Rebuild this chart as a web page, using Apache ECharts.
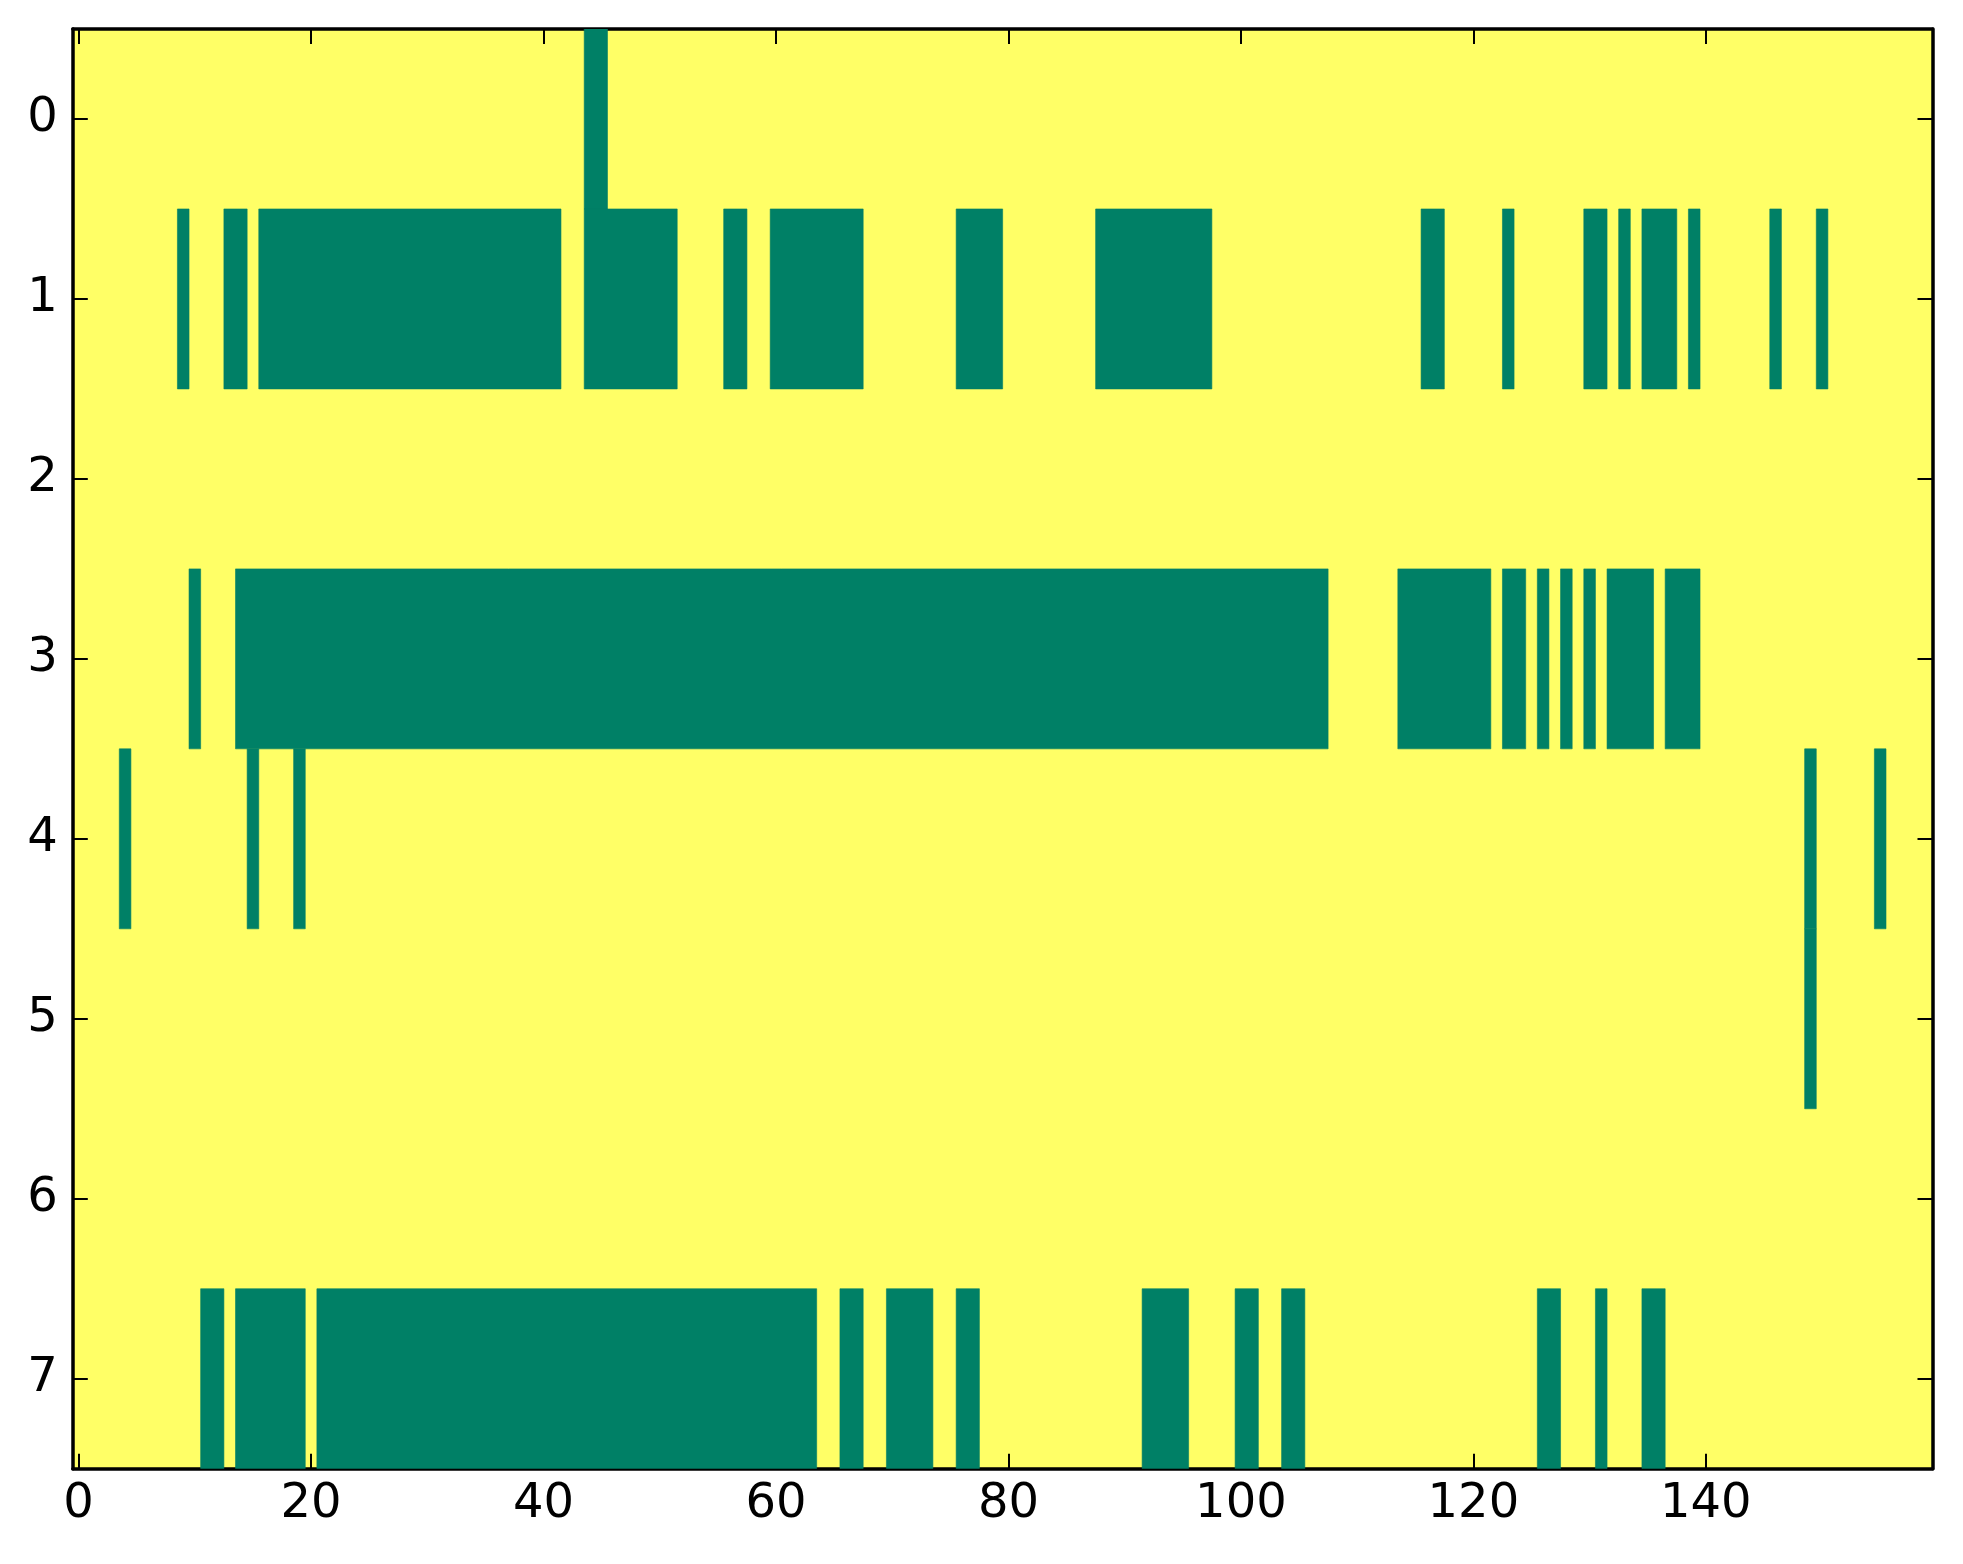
<!DOCTYPE html>
<html>
<head>
<meta charset="utf-8">
<script src="https://cdn.jsdelivr.net/npm/echarts@6/dist/echarts.min.js"></script>
<style>
  html, body { margin: 0; padding: 0; background: #fff; }
  #mainChart { width: 1963px; height: 1564px; }
</style>
</head>
<body>
<div id="mainChart"></div>
<script>
// green cells per row, as runs of [firstColumn, lastColumn]
var row0 = [[44, 45]];
var row1 = [[9, 9], [13, 14], [16, 41], [44, 51], [56, 57], [60, 67], [76, 79], [88, 97],
            [116, 117], [123, 123], [130, 131], [133, 133], [135, 137], [139, 139], [146, 146], [150, 150]];
var row2 = [];
var row3 = [[10, 10], [14, 107], [114, 121], [123, 124], [126, 126], [128, 128], [130, 130],
            [132, 135], [137, 139]];
var row4 = [[4, 4], [15, 15], [19, 19], [149, 149], [155, 155]];
var row5 = [[149, 149]];
var row6 = [];
var row7 = [[11, 12], [14, 19], [21, 63], [66, 67], [70, 73], [76, 77], [92, 95], [100, 101],
            [104, 105], [126, 127], [131, 131], [135, 136]];

var nCols = 160;
var nRows = 8;
var xTicks = [0, 20, 40, 60, 80, 100, 120, 140];
var yTicks = [0, 1, 2, 3, 4, 5, 6, 7];

var rows = [row0, row1, row2, row3, row4, row5, row6, row7];
var cells = [];
for (var r = 0; r < rows.length; r++) {
    for (var k = 0; k < rows[r].length; k++) {
        cells.push([rows[r][k][0], rows[r][k][1], r]);
    }
}

var myChart = echarts.init(document.getElementById("mainChart"));

var font = "DejaVu Sans";
var tickStyle = { color: "#000", width: 2 };
var lineStyle = { color: "#000", width: 3.5 };

function xAxisDef(pos, showLabel) {
    return {
        type: "value",
        position: pos,
        min: -0.5,
        max: nCols - 0.5,
        axisLine: { show: true, onZero: false, lineStyle: lineStyle },
        axisTick: { show: true, inside: true, length: 15, customValues: xTicks, lineStyle: tickStyle },
        axisLabel: {
            show: showLabel, customValues: xTicks, margin: 12,
            color: "#000", fontFamily: font, fontSize: 48
        },
        splitLine: { show: false }
    };
}

function yAxisDef(pos, showLabel) {
    return {
        type: "value",
        position: pos,
        inverse: true,
        min: -0.5,
        max: nRows - 0.5,
        axisLine: { show: true, onZero: false, lineStyle: lineStyle },
        axisTick: { show: true, inside: true, length: 15, customValues: yTicks, lineStyle: tickStyle },
        axisLabel: {
            show: showLabel, customValues: yTicks, margin: 15,
            color: "#000", fontFamily: font, fontSize: 48
        },
        splitLine: { show: false }
    };
}

var option = {
    animation: false,
    grid: {
        left: 72.8,
        right: 30.5,
        top: 29,
        bottom: 95.3,
        show: true,
        backgroundColor: "#ffff66",
        borderWidth: 0
    },
    xAxis: [xAxisDef("bottom", true), xAxisDef("top", false)],
    yAxis: [yAxisDef("left", true), yAxisDef("right", false)],
    series: [{
        type: "custom",
        xAxisIndex: 0,
        yAxisIndex: 0,
        data: cells,
        clip: true,
        z: 1,
        renderItem: function (params, api) {
            var a = api.coord([api.value(0) - 0.5, api.value(2) - 0.5]);
            var b = api.coord([api.value(1) + 0.5, api.value(2) + 0.5]);
            return {
                type: "rect",
                shape: {
                    x: Math.min(a[0], b[0]),
                    y: Math.min(a[1], b[1]),
                    width: Math.abs(b[0] - a[0]),
                    height: Math.abs(b[1] - a[1])
                },
                // thin stroke in the same colour hides seams between touching cells
                style: { fill: "#008066", stroke: "#008066", lineWidth: 0.6 }
            };
        }
    }]
};

myChart.setOption(option);
</script>
</body>
</html>
